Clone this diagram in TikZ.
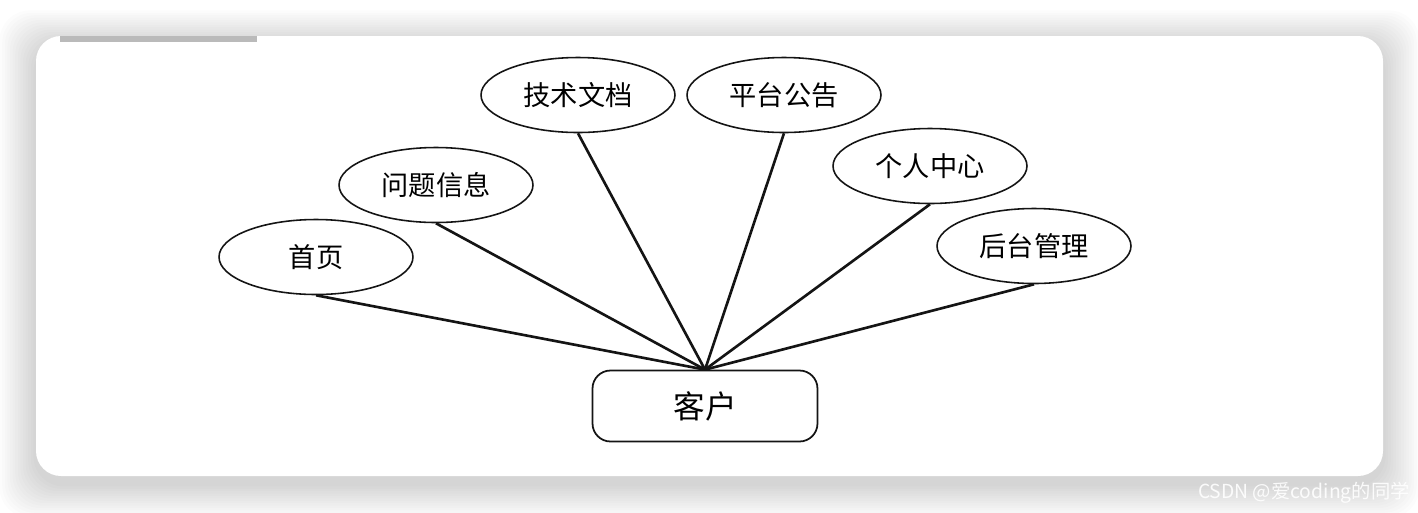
\documentclass[tikz,border=0pt]{standalone}
\usepackage{fontspec}
\usepackage{tikz}
\usetikzlibrary{positioning, shapes.geometric, calc}
\newfontfamily\cjk{Noto Sans CJK SC}
\usepackage{xcolor}
\definecolor{CardWhite}{RGB}{255, 255, 255}
\definecolor{ShadowGray}{RGB}{0, 0, 0}
\definecolor{TabGray}{RGB}{186, 186, 186}
\definecolor{InkBlack}{RGB}{20, 20, 20}
\colorlet{NodeStroke}{InkBlack}
\colorlet{LinkColor}{InkBlack}
\tikzset{
    % Function ellipse (首页, 问题信息 ...)
    funcnode/.style={
        draw=NodeStroke,
        fill=CardWhite,
        ellipse,
        inner sep=0pt,
        minimum width=3.88cm,
        minimum height=1.5cm,
        line width=0.9pt,
        font=\cjk\fontsize{15.5}{18}\selectfont
    },
    % Role box (客户)
    rolenode/.style={
        draw=NodeStroke,
        fill=CardWhite,
        rectangle,
        rounded corners=0.36cm,
        minimum width=4.5cm,
        minimum height=1.42cm,
        line width=1pt,
        font=\cjk\fontsize{18}{21}\selectfont
    },
    % Connector from role to function
    linkline/.style={
        draw=LinkColor,
        line width=1.5pt
    }
}
\begin{document}
\begin{tikzpicture}[x=0.02cm, y=-0.02cm]

    % ==========================================
    % CARD AND SHADOW
    % ==========================================
    \useasboundingbox (0,0) rectangle (1418,512);
    \fill[white] (0,0) rectangle (1418,512);
    \foreach \s in {1,...,14} {
        \fill[ShadowGray, opacity=0.011, rounded corners=0.6cm]
            ($(36,44)+(-2.6*\s,-2.4*\s)$) rectangle ($(1383,484)+(2.6*\s,2.4*\s)$);
    }
    \fill[CardWhite, rounded corners=0.5cm] (36,36) rectangle (1383,476);
    \fill[TabGray] (60,36) rectangle (257,42);

    % ==========================================
    % FUNCTIONS
    % ==========================================
    \node[funcnode] (home)   at (316,257)  {首页};
    \node[funcnode] (issue)  at (436,185)  {问题信息};
    \node[funcnode] (docs)   at (578,95)   {技术文档};
    \node[funcnode] (notice) at (784,95)   {平台公告};
    \node[funcnode] (mine)   at (930,166)  {个人中心};
    \node[funcnode] (admin)  at (1034,246) {后台管理};

    % ==========================================
    % ROLE
    % ==========================================
    \node[rolenode] (client) at (705,406) {客户};
    \coordinate (hub) at (client.north);

    % Links
    \foreach \f in {home, issue, docs, notice, mine, admin} {
        \draw[linkline] (\f.south) -- (hub);
    }

    % Watermark
    \node[anchor=base east, inner sep=0pt, text=white, opacity=0.9,
          font=\cjk\fontsize{11}{13}\selectfont] (mark) at (1410,498) {CSDN @爱coding的同学};

\end{tikzpicture}
\end{document}
